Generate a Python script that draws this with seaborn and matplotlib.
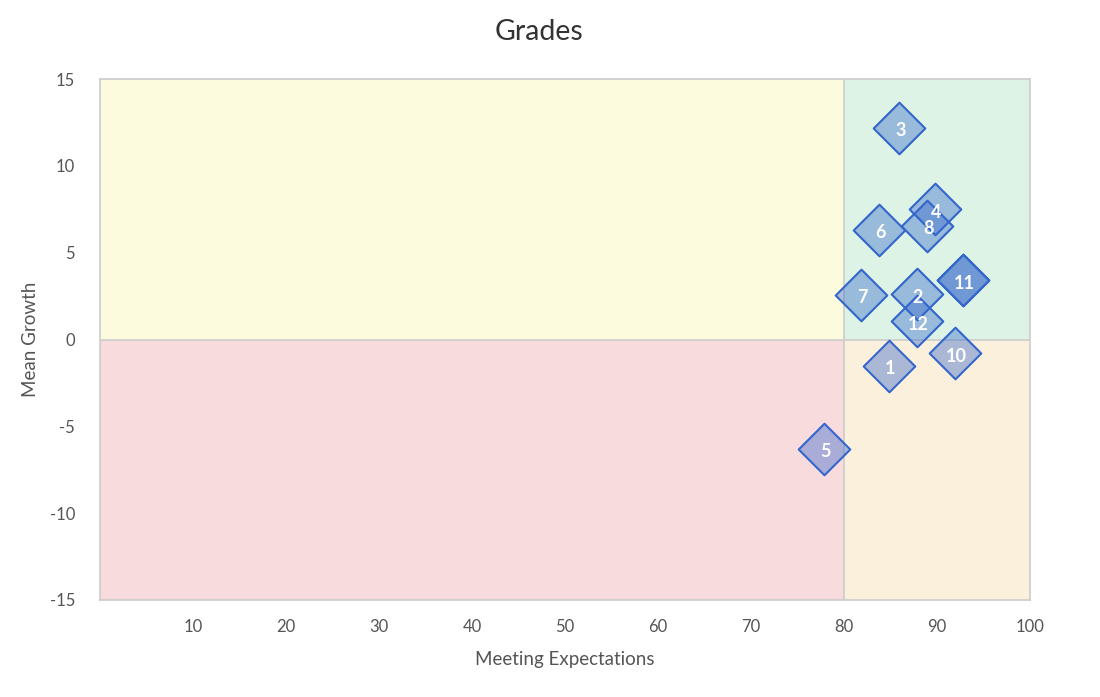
import matplotlib
matplotlib.use("Agg")
import matplotlib.pyplot as plt
import seaborn as sns
import pandas as pd

ids = ["1", "2", "3", "4", "5", "6", "7", "8", "9", "10", "11", "12"]
meeting_expectations = [84.8, 87.8, 85.9, 89.8, 77.9, 83.8, 81.8, 88.9, 92.8, 91.9, 92.8, 87.8]
mean_growth = [-1.5, 2.6, 12.2, 7.5, -6.3, 6.3, 2.55, 6.55, 3.4, -0.8, 3.4, 1.05]

x_ticks = [10, 20, 30, 40, 50, 60, 70, 80, 90, 100]
y_ticks = [-15, -10, -5, 0, 5, 10, 15]
x_split = 80
y_split = 0

sns.set_theme(style="white")
plt.rcParams["font.family"] = ["Lato", "DejaVu Sans"]
plt.rcParams["axes.unicode_minus"] = False

df = pd.DataFrame({"id": ids, "x": meeting_expectations, "y": mean_growth})

fig = plt.figure(figsize=(11, 6.97), dpi=100)
ax = fig.add_axes([100 / 1100, 1 - 600 / 697, 930 / 1100, 521 / 697])

xmin, xmax, ymin, ymax = 0, 100, -15, 15
ax.axvspan(xmin, x_split, ymin=0.5, ymax=1, color="#fdfbdd", lw=0, zorder=0)
ax.axvspan(x_split, xmax, ymin=0.5, ymax=1, color="#dcf3e6", lw=0, zorder=0)
ax.axvspan(xmin, x_split, ymin=0, ymax=0.5, color="#f8dcdd", lw=0, zorder=0)
ax.axvspan(x_split, xmax, ymin=0, ymax=0.5, color="#fbf0dc", lw=0, zorder=0)
ax.axvline(x_split, color="#cccccc", lw=1.2, zorder=1)
ax.axhline(y_split, color="#cccccc", lw=1.2, zorder=1)

sns.scatterplot(data=df, x="x", y="y", marker="D", s=690,
                color=(0.2, 0.4, 0.8, 0.4), edgecolor="#3366cc",
                linewidth=1.5, ax=ax, zorder=3, legend=False)

seen = set()
for lab, xv, yv in zip(df["id"], df["x"], df["y"]):
    key = (xv, yv)
    if key in seen:
        continue
    dup = [l for l, a, b in zip(df["id"], df["x"], df["y"]) if (a, b) == key]
    seen.add(key)
    ax.annotate(dup[-1], (xv, yv), xytext=(1, -2), textcoords="offset points",
                color="white", fontsize=13, fontweight="bold",
                ha="center", va="center", zorder=4)

ax.set_xlim(xmin, xmax)
ax.set_ylim(ymin, ymax)
ax.set_xticks(x_ticks)
ax.set_yticks(y_ticks)
ax.tick_params(axis="both", length=0, labelsize=12, labelcolor="#555555")
ax.tick_params(axis="x", pad=14)
ax.tick_params(axis="y", pad=18)
for sp in ax.spines.values():
    sp.set_color("#cccccc")
    sp.set_linewidth(1.2)

ax.set_xlabel("Meeting Expectations", fontsize=13.5, color="#555555")
ax.xaxis.set_label_coords(0.5, -(659 - 600) / 521)
ax.set_ylabel("Mean Growth", fontsize=13.5, color="#555555")
ax.yaxis.set_label_coords(-(100 - 31) / 930, 0.5)
ax.xaxis.label.set_va("center")
ax.yaxis.label.set_va("center")
fig.text(539 / 1100, 1 - 32 / 697, "Grades", fontsize=20.5, color="#333333",
         ha="center", va="center")

fig.savefig("out.png", dpi=100)
